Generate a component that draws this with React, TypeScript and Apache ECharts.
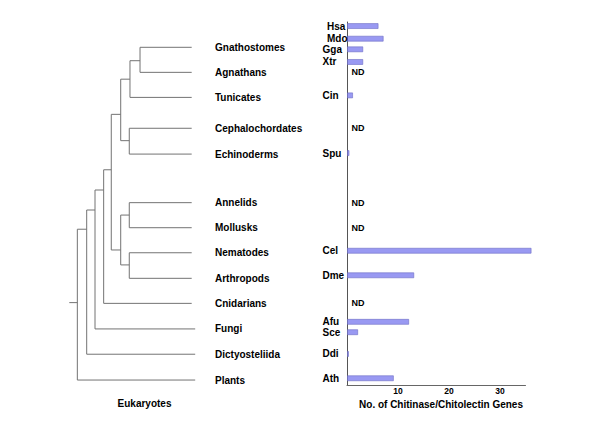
import React, { useEffect, useRef } from "react";
import * as echarts from "echarts";

// ---------- Data ----------
// Leaves of the eukaryote tree (top to bottom) and their row positions
const taxa = [
  "Gnathostomes", "Agnathans", "Tunicates", "Cephalochordates", "Echinoderms",
  "Annelids", "Mollusks", "Nematodes", "Arthropods", "Cnidarians",
  "Fungi", "Dictyosteliida", "Plants",
];
const taxonRows = [0, 0.99, 1.98, 3.2, 4.22, 6.14, 7.13, 8.12, 9.13, 10.12, 11.13, 12.13, 13.15];
const taxonDepths = [14, 14, 14, 14, 14, 14, 14, 14, 14, 14, 14.4, 14.4, 14.4];

// Internal nodes of the tree: depth, junction row, children
const nodeNames = ["Root", "N1", "N2", "N3", "Bilateria", "Deuterostomia", "Olfactores", "Vertebrata", "Ambulacraria", "Protostomia", "Lophotrochozoa", "Ecdysozoa"];
const nodeDepths = [0.92, 1.99, 2.94, 3.93, 4.8, 5.88, 6.94, 8.09, 6.86, 5.88, 6.86, 6.86];
const nodeRows = [10.09, 7.19, 6.43, 5.64, 4.84, 2.65, 1.26, 0.53, 3.69, 8.01, 6.63, 8.6];
const nodeChildren = [
  ["N1", "Plants"],
  ["N2", "Dictyosteliida"],
  ["N3", "Fungi"],
  ["Bilateria", "Cnidarians"],
  ["Deuterostomia", "Protostomia"],
  ["Olfactores", "Ambulacraria"],
  ["Vertebrata", "Tunicates"],
  ["Gnathostomes", "Agnathans"],
  ["Cephalochordates", "Echinoderms"],
  ["Lophotrochozoa", "Ecdysozoa"],
  ["Annelids", "Mollusks"],
  ["Nematodes", "Arthropods"],
];
const rootStubDepth = 0;

// Species and number of chitinase / chitolectin genes
const species = ["Hsa", "Mdo", "Gga", "Xtr", "Cin", "Spu", "Cel", "Dme", "Afu", "Sce", "Ddi", "Ath"];
const geneCounts = [6, 7, 3, 3, 1, 0.3, 36, 13, 12, 2, 0.2, 9];
const speciesRows = [-0.84, -0.34, 0.08, 0.58, 1.9, 4.18, 8.04, 9.01, 10.85, 11.26, 12.12, 13.08];

// Groups with no data
const notDetermined = ["Agnathans", "Cephalochordates", "Annelids", "Mollusks", "Cnidarians"];

const xTickValues = [10, 20, 30];

// ---------- Layout / style ----------
const FONT = '"Liberation Sans", Arial, sans-serif';
const ROW_MIN = -1;
const ROW_MAX = 13.35;
const GRID_TOP = 22;
const GRID_HEIGHT = 363.1;
const indentedSpecies = new Set(["Hsa", "Mdo"]);

function buildSegments() {
  const pos: Record<string, { d: number; r: number }> = {};
  taxa.forEach((t, i) => (pos[t] = { d: taxonDepths[i], r: taxonRows[i] }));
  nodeNames.forEach((n, i) => (pos[n] = { d: nodeDepths[i], r: nodeRows[i] }));
  const segs: number[][] = [];
  nodeNames.forEach((n, i) => {
    const d = nodeDepths[i];
    const rows = nodeChildren[i].map((c) => pos[c].r);
    segs.push([d, Math.min(...rows), d, Math.max(...rows)]);
    nodeChildren[i].forEach((c) => {
      segs.push([d, pos[c].r, pos[c].d, pos[c].r]);
    });
  });
  segs.push([rootStubDepth, nodeRows[0], nodeDepths[0], nodeRows[0]]);
  return segs;
}

export default function App() {
  const ref = useRef<HTMLDivElement>(null);

  useEffect(() => {
    document.body.style.margin = "0";
    if (!ref.current) return;
    const chart = echarts.init(ref.current, undefined, { renderer: "svg" });
    const segs = buildSegments();

    const textStyle = (text: string, size: number, align: string) => ({
      text,
      fill: "#000",
      fontSize: size,
      fontWeight: "bold",
      fontFamily: FONT,
      align,
      verticalAlign: "middle",
    });

    const option: any = {
      animation: false,
      backgroundColor: "#fff",
      grid: [
        { left: 69.3, width: 122.4, top: GRID_TOP, height: GRID_HEIGHT },
        { left: 347, width: 178.5, top: GRID_TOP, height: GRID_HEIGHT },
      ],
      xAxis: [
        { gridIndex: 0, type: "value", min: 0, max: 14, show: false },
        {
          gridIndex: 1,
          type: "value",
          min: 0,
          max: 35,
          interval: 10,
          axisLine: { show: true, onZero: false, lineStyle: { color: "#666", width: 1 } },
          axisTick: { show: false },
          splitLine: { show: false },
          axisLabel: {
            customValues: xTickValues,
            margin: 1,
            fontSize: 8.5,
            fontWeight: "bold",
            color: "#000",
            fontFamily: FONT,
          },
        },
      ],
      yAxis: [
        { gridIndex: 0, type: "value", min: ROW_MIN, max: ROW_MAX, inverse: true, show: false },
        {
          gridIndex: 1,
          type: "value",
          min: ROW_MIN,
          max: ROW_MAX,
          inverse: true,
          axisLine: { show: true, onZero: false, lineStyle: { color: "#555", width: 1 } },
          axisTick: { show: false },
          axisLabel: { show: false },
          splitLine: { show: false },
        },
      ],
      graphic: [
        {
          type: "text",
          x: 144.5,
          y: 403.5,
          style: textStyle("Eukaryotes", 10, "center"),
        },
        {
          type: "text",
          x: 441,
          y: 404.5,
          style: textStyle("No. of Chitinase/Chitolectin Genes", 10, "center"),
        },
      ],
      series: [
        {
          type: "custom",
          name: "tree",
          xAxisIndex: 0,
          yAxisIndex: 0,
          silent: true,
          clip: false,
          data: segs,
          encode: { x: [0, 2], y: [1, 3] },
          renderItem: (params: any, api: any) => {
            const p1 = api.coord([api.value(0), api.value(1)]);
            const p2 = api.coord([api.value(2), api.value(3)]);
            return {
              type: "line",
              shape: { x1: p1[0], y1: p1[1], x2: p2[0], y2: p2[1] },
              style: { stroke: "#737373", lineWidth: 1 },
            };
          },
        },
        {
          type: "custom",
          name: "taxa",
          xAxisIndex: 0,
          yAxisIndex: 0,
          silent: true,
          clip: false,
          data: taxa.map((t, i) => [14, taxonRows[i]]),
          encode: { x: 0, y: 1 },
          renderItem: (params: any, api: any) => {
            const p = api.coord([api.value(0), api.value(1)]);
            return {
              type: "text",
              x: p[0] + 23.3,
              y: p[1],
              style: textStyle(taxa[params.dataIndex], 10, "left"),
            };
          },
        },
        {
          type: "custom",
          name: "genes",
          xAxisIndex: 1,
          yAxisIndex: 1,
          silent: true,
          clip: false,
          data: geneCounts.map((v, i) => [v, speciesRows[i]]),
          encode: { x: 0, y: 1 },
          renderItem: (params: any, api: any) => {
            const p0 = api.coord([0, api.value(1)]);
            const p1 = api.coord([api.value(0), api.value(1)]);
            return {
              type: "rect",
              shape: { x: p0[0] + 0.5, y: p0[1] - 2.5, width: p1[0] - p0[0], height: 5 },
              style: { fill: "#9999f2", stroke: "#6b6bc4", lineWidth: 0.6 },
            };
          },
        },
        {
          type: "custom",
          name: "species",
          xAxisIndex: 1,
          yAxisIndex: 1,
          silent: true,
          clip: false,
          data: species.map((s, i) => [0, speciesRows[i]]),
          encode: { x: 0, y: 1 },
          renderItem: (params: any, api: any) => {
            const p = api.coord([0, api.value(1)]);
            const name = species[params.dataIndex];
            return {
              type: "text",
              x: p[0] - (indentedSpecies.has(name) ? 20 : 24.5),
              y: p[1],
              style: textStyle(name, 10, "left"),
            };
          },
        },
        {
          type: "custom",
          name: "ND",
          xAxisIndex: 1,
          yAxisIndex: 1,
          silent: true,
          clip: false,
          data: notDetermined.map((t) => [0, taxonRows[taxa.indexOf(t)]]),
          encode: { x: 0, y: 1 },
          renderItem: (params: any, api: any) => {
            const p = api.coord([0, api.value(1)]);
            return {
              type: "text",
              x: p[0] + 4.5,
              y: p[1],
              style: textStyle("ND", 9, "left"),
            };
          },
        },
      ],
    };

    chart.setOption(option);
    return () => chart.dispose();
  }, []);

  return <div ref={ref} style={{ width: 600, height: 426 }} />;
}
